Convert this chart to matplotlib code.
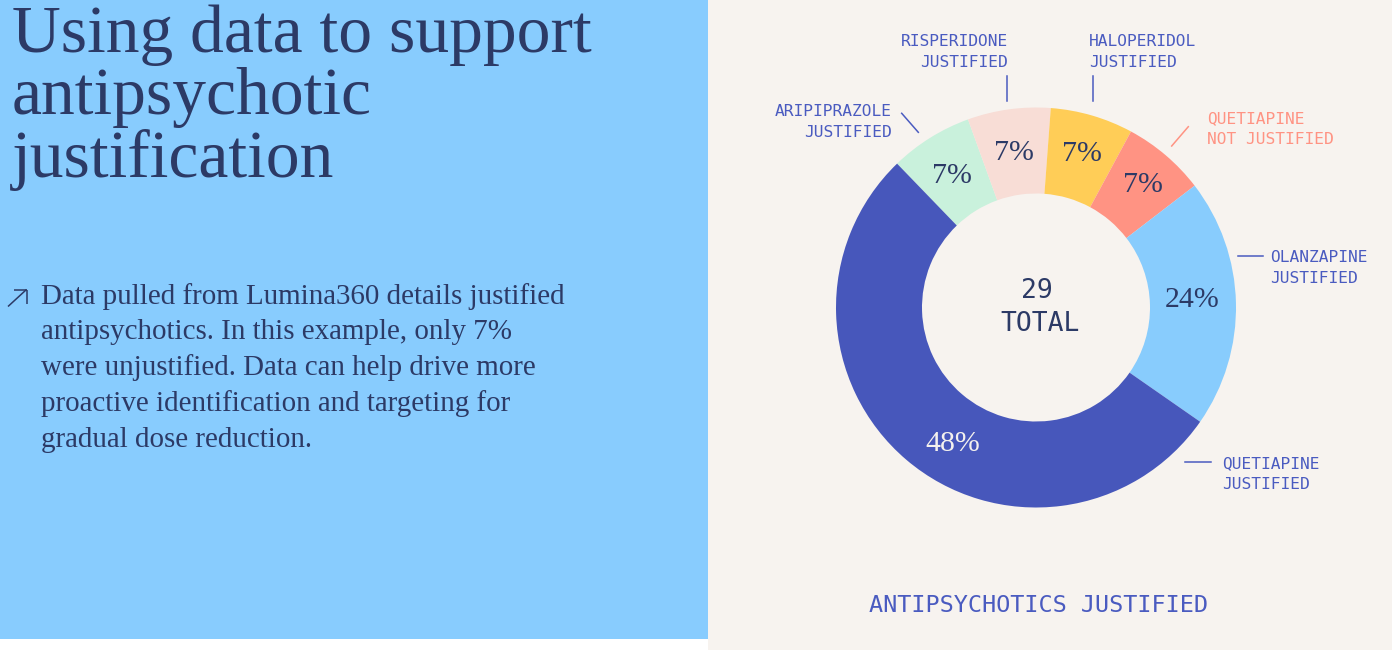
import matplotlib
matplotlib.use("Agg")
import matplotlib.pyplot as plt
import numpy as np
from matplotlib.patches import Rectangle
from matplotlib.lines import Line2D

# ---------------- data ----------------
categories = ["ARIPIPRAZOLE\nJUSTIFIED", "RISPERIDONE\nJUSTIFIED", "HALOPERIDOL\nJUSTIFIED",
              "QUETIAPINE\nNOT JUSTIFIED", "OLANZAPINE\nJUSTIFIED", "QUETIAPINE\nJUSTIFIED"]
arc_shares = [6.7, 6.7, 6.7, 6.7, 20.1, 53.1]          # arc sizes as drawn in the picture
pct_labels = ["7%", "7%", "7%", "7%", "24%", "48%"]    # printed labels
total_count = 29
total_label = "TOTAL"
chart_caption = "ANTIPSYCHOTICS JUSTIFIED"
title_lines = ["Using data to support", "antipsychotic", "justification"]
body_lines = ["Data pulled from Lumina360 details justified",
              "antipsychotics. In this example, only 7%",
              "were unjustified. Data can help drive more",
              "proactive identification and targeting for",
              "gradual dose reduction."]

# ---------------- styles ----------------
W, H = 1392, 650
BLUE_BG = "#88CCFE"
BEIGE = "#F7F3EF"
NAVY = "#2C3A66"
LABEL_BLUE = "#4A5BC0"
SALMON = "#FF9383"
slice_colors = ["#C9F1DC", "#F8DDD6", "#FFCD57", "#FF9383", "#88CCFD", "#4757BB"]
pct_colors = [NAVY, NAVY, NAVY, NAVY, NAVY, "#F4F1EE"]
label_colors = [LABEL_BLUE, LABEL_BLUE, LABEL_BLUE, SALMON, LABEL_BLUE, LABEL_BLUE]
pct_radius = [0.79, 0.795, 0.815, 0.825, 0.78, 0.785]
pct_angle_nudge = [0, 0, 0, 0, 2.4, 8.5]
SERIF = ["Liberation Serif", "DejaVu Serif"]
MONO = ["DejaVu Sans Mono"]

fig = plt.figure(figsize=(W / 100, H / 100), dpi=100)
fig.patch.set_facecolor("white")

bg = fig.add_axes([0, 0, 1, 1])
bg.set_xlim(0, W)
bg.set_ylim(H, 0)
bg.axis("off")
bg.add_patch(Rectangle((0, 0), 708, 639, color=BLUE_BG, lw=0))
bg.add_patch(Rectangle((708, 0), W - 708, H, color=BEIGE, lw=0))

# title
for i, line in enumerate(title_lines):
    bg.text(12, 52 + 62.5 * i, line, family=SERIF, fontsize=48.6, color=NAVY,
            ha="left", va="baseline")

# body text
for i, line in enumerate(body_lines):
    bg.text(41, 303.5 + 35.8 * i, line, family=SERIF, fontsize=20.9, color=NAVY,
            ha="left", va="baseline")

# arrow glyph
for (x0, y0, x1, y1) in [(8, 306.5, 26.5, 289.5), (14, 289.5, 26.5, 289.5), (26.5, 289.5, 26.5, 304)]:
    bg.add_line(Line2D([x0, x1], [y0, y1], color=NAVY, lw=1.1, solid_capstyle="butt"))

# ---------------- donut ----------------
cx, cy, R = 1036, 307.5, 200
ax = fig.add_axes([(cx - R) / W, (H - cy - R) / H, 2 * R / W, 2 * R / H])
wedges, _ = ax.pie(arc_shares, colors=slice_colors, startangle=134, counterclock=False,
                   radius=1.0, wedgeprops=dict(width=0.43, linewidth=0, antialiased=True))
ax.set_xlim(-1, 1)
ax.set_ylim(-1, 1)
ax.set_aspect("equal")
ax.axis("off")

for w, lab, col, r, nud in zip(wedges, pct_labels, pct_colors, pct_radius, pct_angle_nudge):
    th = np.deg2rad((w.theta1 + w.theta2) / 2 + nud)
    ax.text(r * np.cos(th), r * np.sin(th), lab, ha="center", va="center_baseline",
            family=SERIF, fontsize=21.5, color=col)

# center text
bg.text(1037, 298, str(total_count), family=MONO, fontsize=19, color=NAVY, ha="center", va="baseline")
bg.text(1040, 331, total_label, family=MONO, fontsize=19, color=NAVY, ha="center", va="baseline")

# category labels (anchor x, first baseline, alignment) and leader lines
label_layout = [(892, 116, "right"), (1008, 46, "right"), (1089, 46, "left"),
                (1207, 122.7, "left"), (1270, 262, "left"), (1222.5, 468.3, "left")]
leaders = [((901.7, 113.3), (918.3, 132.3)), ((1007.3, 75.7), (1007.3, 101)),
           ((1093.3, 75.7), (1093.3, 101)), ((1188.3, 126.7), (1171.7, 146)),
           ((1237.7, 256), (1262.7, 256)), ((1185, 462.3), (1210.7, 462.3))]
for name, (lx, ly, ha), col, (p0, p1) in zip(categories, label_layout, label_colors, leaders):
    for j, part in enumerate(name.split("\n")):
        bg.text(lx, ly + 20.8 * j, part, family=MONO, fontsize=11.7, color=col,
                ha=ha, va="baseline")
    bg.add_line(Line2D([p0[0], p1[0]], [p0[1], p1[1]], color=col, lw=1.1))

bg.text(1038.5, 611.5, chart_caption, family=MONO, fontsize=16.9, color=LABEL_BLUE,
        ha="center", va="baseline")

fig.savefig("out.png", dpi=100, facecolor=fig.get_facecolor())
